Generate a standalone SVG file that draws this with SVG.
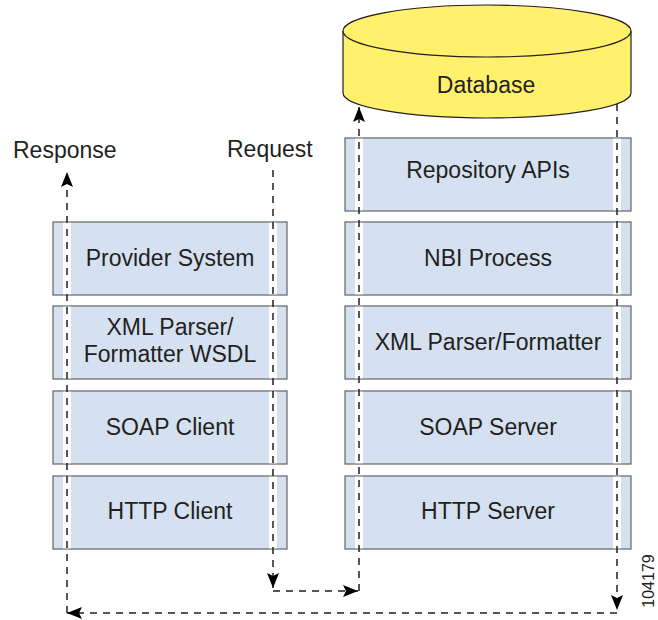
<svg xmlns="http://www.w3.org/2000/svg" width="658" height="620" viewBox="0 0 658 620">
<style>
.box{fill:#d5e1f1;stroke:#6d6e71;stroke-width:1.3}
.strip{fill:#ffffff}
.lbl{font-family:"Liberation Sans",Arial,sans-serif;font-size:23px;fill:#231f20;text-anchor:middle}
.side{font-family:"Liberation Sans",Arial,sans-serif;font-size:23px;fill:#231f20}
.dash{fill:none;stroke:#231f20;stroke-width:1.5;stroke-dasharray:7 6}
</style>
<defs>
<marker id="ah" markerUnits="userSpaceOnUse" viewBox="0 0 15 12" markerWidth="15" markerHeight="12" refX="15" refY="6" orient="auto">
<path d="M0,0 L15,6 L0,12 L3,6 Z" fill="#000"/>
</marker>
</defs>
<rect width="658" height="620" fill="#fff"/>

<g id="database">
<path d="M343,31 V93 A144,25 0 0 0 631,93 V31" fill="#fff16b" stroke="#231f20" stroke-width="1.2"/>
<ellipse cx="487" cy="31" rx="144" ry="26" fill="#fff16b" stroke="#231f20" stroke-width="1.2"/>
<text class="lbl" x="486" y="93">Database</text>
</g>

<g id="repository-apis">
<rect class="box" x="345" y="138" width="286" height="73"/>
<rect class="strip" x="355" y="138.7" width="8" height="71.6"/><rect class="strip" x="613" y="138.7" width="8" height="71.6"/>
<text class="lbl" x="488" y="178">Repository APIs</text>
</g>
<g id="nbi-process">
<rect class="box" x="345" y="222" width="286" height="73"/>
<rect class="strip" x="355" y="222.7" width="8" height="71.6"/><rect class="strip" x="613" y="222.7" width="8" height="71.6"/>
<text class="lbl" x="488" y="266">NBI Process</text>
</g>
<g id="xml-parser-formatter">
<rect class="box" x="345" y="306" width="286" height="73"/>
<rect class="strip" x="355" y="306.7" width="8" height="71.6"/><rect class="strip" x="613" y="306.7" width="8" height="71.6"/>
<text class="lbl" x="488" y="350">XML Parser/Formatter</text>
</g>
<g id="soap-server">
<rect class="box" x="345" y="391" width="286" height="73"/>
<rect class="strip" x="355" y="391.7" width="8" height="71.6"/><rect class="strip" x="613" y="391.7" width="8" height="71.6"/>
<text class="lbl" x="488" y="435">SOAP Server</text>
</g>
<g id="http-server">
<rect class="box" x="345" y="476" width="286" height="73"/>
<rect class="strip" x="355" y="476.7" width="8" height="71.6"/><rect class="strip" x="613" y="476.7" width="8" height="71.6"/>
<text class="lbl" x="488" y="519">HTTP Server</text>
</g>

<g id="provider-system">
<rect class="box" x="53" y="222" width="234" height="73"/>
<rect class="strip" x="63" y="222.7" width="8" height="71.6"/><rect class="strip" x="269" y="222.7" width="8" height="71.6"/>
<text class="lbl" x="170" y="266">Provider System</text>
</g>
<g id="xml-parser-wsdl">
<rect class="box" x="53" y="306" width="234" height="73"/>
<rect class="strip" x="63" y="306.7" width="8" height="71.6"/><rect class="strip" x="269" y="306.7" width="8" height="71.6"/>
<text class="lbl" x="170" y="335">XML Parser/</text>
<text class="lbl" x="170" y="362">Formatter WSDL</text>
</g>
<g id="soap-client">
<rect class="box" x="53" y="391" width="234" height="73"/>
<rect class="strip" x="63" y="391.7" width="8" height="71.6"/><rect class="strip" x="269" y="391.7" width="8" height="71.6"/>
<text class="lbl" x="170" y="435">SOAP Client</text>
</g>
<g id="http-client">
<rect class="box" x="53" y="476" width="234" height="73"/>
<rect class="strip" x="63" y="476.7" width="8" height="71.6"/><rect class="strip" x="269" y="476.7" width="8" height="71.6"/>
<text class="lbl" x="170" y="519">HTTP Client</text>
</g>

<g id="labels">
<text class="side" x="13" y="158">Response</text>
<text class="side" x="227" y="157">Request</text>
<text font-family="'Liberation Sans',Arial,sans-serif" font-size="16" fill="#231f20" text-anchor="middle" transform="translate(654,581) rotate(-90)">104179</text>
</g>

<g id="connectors">
<path class="dash" d="M273,170 V588" marker-end="url(#ah)"/>
<path class="dash" d="M273,591 H358" marker-end="url(#ah)"/>
<path class="dash" d="M359,591 V107" marker-end="url(#ah)"/>
<path class="dash" d="M617,104 V610" marker-end="url(#ah)"/>
<path class="dash" d="M617,613 H67" marker-end="url(#ah)"/>
<path class="dash" d="M67,613 V172" marker-end="url(#ah)"/>
</g>
</svg>
